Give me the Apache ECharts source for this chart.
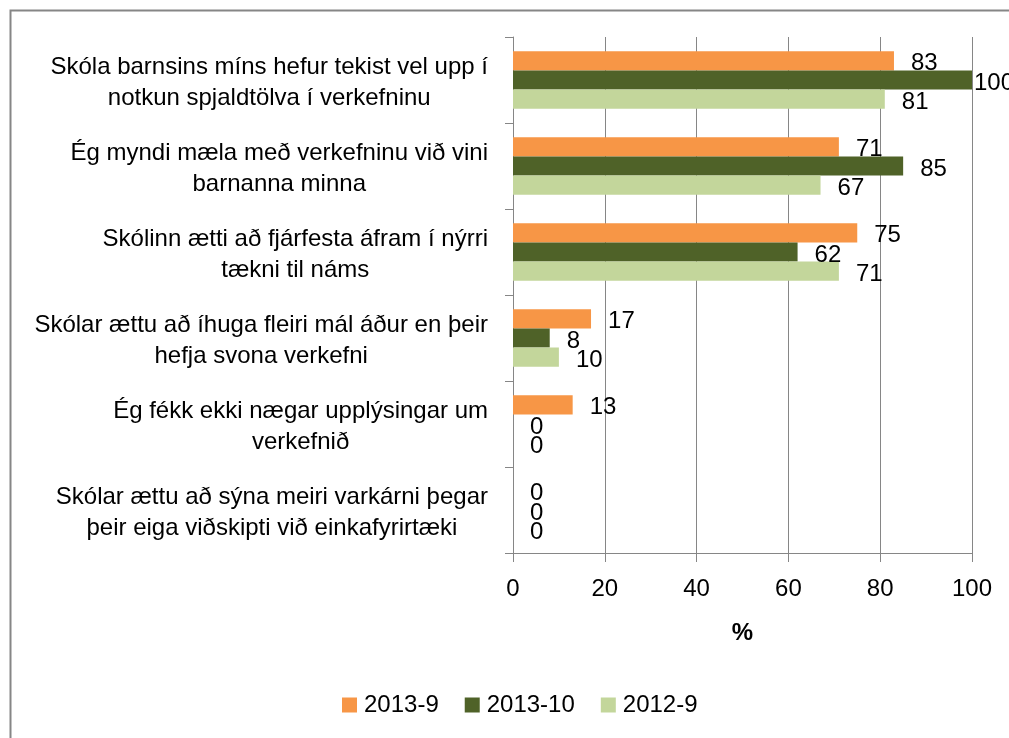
<!DOCTYPE html>
<html><head><meta charset="utf-8">
<script src="https://cdn.jsdelivr.net/npm/echarts@6/dist/echarts.min.js"></script>
<style>html,body{margin:0;padding:0;background:#fff}#c{width:1009px;height:738px}</style>
</head><body><div id="c"></div>
<script>
const categories = [
  'Skóla barnsins míns hefur tekist vel upp í\nnotkun spjaldtölva í verkefninu',
  'Ég myndi mæla með verkefninu við vini\nbarnanna minna',
  'Skólinn ætti að fjárfesta áfram í nýrri\ntækni til náms',
  'Skólar ættu að íhuga fleiri mál áður en þeir\nhefja svona verkefni',
  'Ég fékk ekki nægar upplýsingar um\nverkefnið',
  'Skólar ættu að sýna meiri varkárni þegar\nþeir eiga viðskipti við einkafyrirtæki'
];
const seriesNames = ['2013-9', '2013-10', '2012-9'];
const values2013_9  = [83, 71, 75, 17, 13, 0];
const values2013_10 = [100, 85, 62, 8, 0, 0];
const values2012_9  = [81, 67, 71, 10, 0, 0];
const axisTitle = '%';

const FONT = '"Liberation Sans", Arial, sans-serif';
const colors = ['#F79646', '#4F6228', '#C3D69B'];
const gray = '#868686';

function mkSeries(name, vals, color) {
  return {
    name: name, type: 'bar', barGap: '0%', barCategoryGap: '33%',
    itemStyle: { color: color },
    label: { show: true, position: 'right', distance: 17, offset: [0, 3], color: '#000', fontSize: 24, fontFamily: FONT },
    data: vals.map(v => v >= 100 ? { value: v, label: { distance: 2 } } : v)
  };
}

const chart = echarts.init(document.getElementById('c'), null, { renderer: 'canvas' });
chart.setOption({
  animation: false,
  backgroundColor: '#fff',
  textStyle: { fontFamily: FONT },
  color: colors,
  graphic: [{
    type: 'rect', left: 8, top: 8, silent: true,
    shape: { x: 0, y: 0, width: 1100, height: 1000 },
    style: { fill: 'none', stroke: gray, lineWidth: 2 }
  }],
  grid: { left: 513, right: 37, top: 37, bottom: 185, containLabel: false, outerBoundsMode: 'none' },
  legend: {
    left: 337, top: 688, itemWidth: 15, itemHeight: 15, itemGap: 26,
    icon: 'rect',
    textStyle: { fontSize: 24, color: '#000', fontFamily: FONT, padding: [0, 0, 0, 2] },
    data: seriesNames
  },
  xAxis: {
    type: 'value', min: 0, max: 100, interval: 20,
    name: axisTitle, nameLocation: 'middle', nameGap: 68,
    nameTextStyle: { fontSize: 24, fontWeight: 'bold', color: '#000', fontFamily: FONT },
    axisLine: { show: true, lineStyle: { color: gray, width: 1 } },
    axisTick: { show: true, length: 9, lineStyle: { color: gray } },
    axisLabel: { fontSize: 24, color: '#000', margin: 24, fontFamily: FONT },
    splitLine: { show: true, lineStyle: { color: gray, width: 1 } }
  },
  yAxis: {
    type: 'category', inverse: true, data: categories,
    axisLine: { show: true, lineStyle: { color: gray, width: 1 } },
    axisTick: { show: true, length: 8, lineStyle: { color: gray } },
    axisLabel: {
      margin: 25, color: '#000', fontSize: 24, fontFamily: FONT, align: 'right',
      padding: [5, 0, 0, 0],
      formatter: v => v.split('\n').map(l => '{c|' + l + '}').join('\n'),
      rich: { c: { align: 'center', fontSize: 24, fontFamily: FONT, color: '#000', lineHeight: 31 } }
    },
    splitLine: { show: false }
  },
  series: [
    mkSeries(seriesNames[0], values2013_9, colors[0]),
    mkSeries(seriesNames[1], values2013_10, colors[1]),
    mkSeries(seriesNames[2], values2012_9, colors[2])
  ]
});
</script></body></html>
